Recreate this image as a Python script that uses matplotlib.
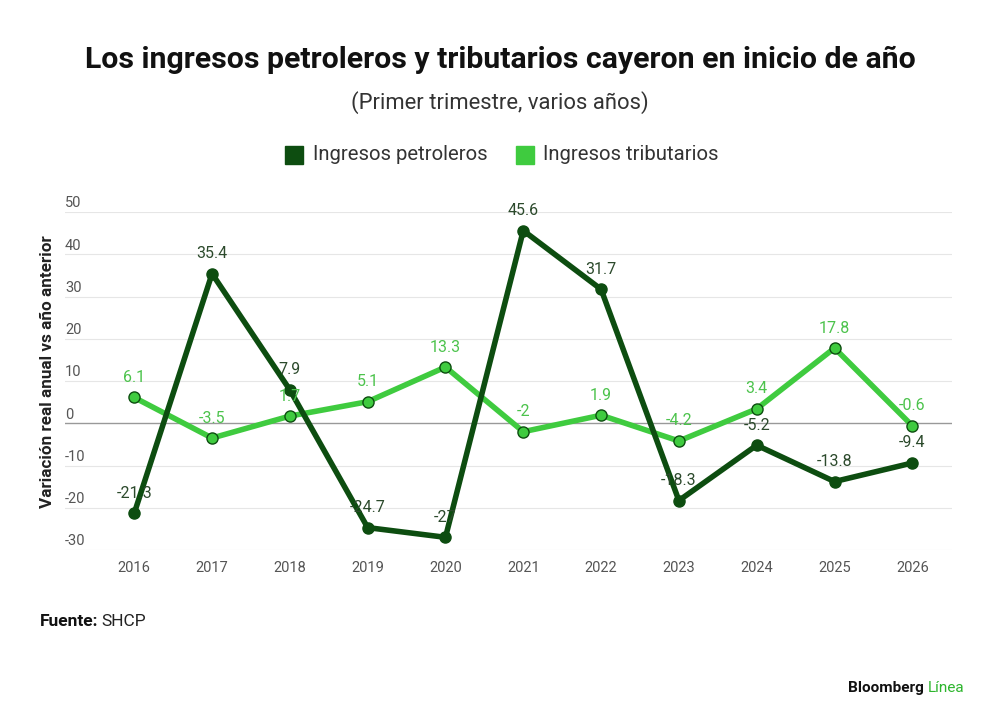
import numpy as np
import matplotlib.pyplot as plt

## Datos
anios = [2016, 2017, 2018, 2019, 2020, 2021, 2022, 2023, 2024, 2025, 2026]
petroleros = [-21.3, 35.4, 7.9, -24.7, -27, 45.6, 31.7, -18.3, -5.2, -13.8, -9.4]
tributarios = [6.1, -3.5, 1.7, 5.1, 13.3, -2, 1.9, -4.2, 3.4, 17.8, -0.6]
etiquetas_pet = ['-21.3', '35.4', '7.9', '-24.7', '-27', '45.6', '31.7', '-18.3', '-5.2', '-13.8', '-9.4']
etiquetas_trib = ['6.1', '-3.5', '1.7', '5.1', '13.3', '-2', '1.9', '-4.2', '3.4', '17.8', '-0.6']
yticks = [-30, -20, -10, 0, 10, 20, 30, 40, 50]

## Estilo
plt.rcParams['font.family'] = ['Roboto', 'DejaVu Sans']
c_osc = '#0d4d10'
c_cla = '#3fcb3f'
c_lab_osc = '#2c4a2c'
c_lab_cla = '#4cc34c'

fig = plt.figure(figsize=(10, 7.22), dpi=100)
ax = fig.add_axes([0.065, 1 - 550 / 722, 0.887, (550 - 212) / 722])
ax.set_xlim(2015.11, 2026.51)
ax.set_ylim(-30, 50)

# Rejilla y línea de cero
for v in yticks:
    ax.axhline(v, color='#999999' if v == 0 else '#e6e6e6',
               linewidth=1.0 if v == 0 else 0.8, zorder=1)
    ax.text(2015.11, v + 0.4, str(v), color='#555555', fontsize=10.5,
            ha='left', va='bottom')

ax.plot(anios, tributarios, color=c_cla, linewidth=4, marker='o', markersize=8,
        markerfacecolor=c_cla, markeredgecolor=c_osc, markeredgewidth=1.0,
        zorder=3, clip_on=False, label='Ingresos tributarios')
ax.plot(anios, petroleros, color=c_osc, linewidth=4, marker='o', markersize=8,
        markerfacecolor=c_osc, markeredgecolor=c_osc,
        zorder=4, clip_on=False, label='Ingresos petroleros')

for x, y, t in zip(anios, petroleros, etiquetas_pet):
    ax.annotate(t, (x, y), xytext=(0, 9), textcoords='offset points',
                ha='center', va='bottom', fontsize=11.5, color=c_lab_osc, zorder=6)
for x, y, t in zip(anios, tributarios, etiquetas_trib):
    ax.annotate(t, (x, y), xytext=(0, 9), textcoords='offset points',
                ha='center', va='bottom', fontsize=11.5, color=c_lab_cla, zorder=6)

ax.set_xticks(anios)
ax.set_xticklabels([str(a) for a in anios], color='#555555', fontsize=10.5)
ax.tick_params(axis='x', length=0, pad=8)
ax.set_yticks([])
for s in ax.spines.values():
    s.set_visible(False)
ax.patch.set_alpha(0)

fig.text(0.048, 1 - 372 / 722, 'Variación real anual vs año anterior', rotation=90,
         ha='center', va='center', fontsize=12.3, fontweight='bold', color='#222222')

## Títulos
fig.text(0.5, 1 - 60 / 722, 'Los ingresos petroleros y tributarios cayeron en inicio de año',
         ha='center', va='center', fontsize=21.8, fontweight='bold', color='#111111')
fig.text(0.5, 1 - 103 / 722, '(Primer trimestre, varios años)',
         ha='center', va='center', fontsize=15.8, color='#333333')

## Leyenda
fig.patches.append(plt.Rectangle((0.285, 1 - 164 / 722), 0.018, 18 / 722,
                                 transform=fig.transFigure, color=c_osc))
fig.text(0.313, 1 - 155 / 722, 'Ingresos petroleros', ha='left', va='center',
         fontsize=14.6, color='#333333')
fig.patches.append(plt.Rectangle((0.516, 1 - 164 / 722), 0.018, 18 / 722,
                                 transform=fig.transFigure, color=c_cla))
fig.text(0.543, 1 - 155 / 722, 'Ingresos tributarios', ha='left', va='center',
         fontsize=14.6, color='#333333')

## Pie
fig.text(0.040, 1 - 622 / 722, 'Fuente:', ha='left', va='center',
         fontsize=12.5, fontweight='bold', color='#111111')
fig.text(0.101, 1 - 622 / 722, 'SHCP', ha='left', va='center',
         fontsize=12.5, color='#222222')
fig.text(0.924, 1 - 688 / 722, 'Bloomberg', ha='right', va='center',
         fontsize=11, fontweight='bold', color='#111111')
fig.text(0.928, 1 - 688 / 722, 'Línea', ha='left', va='center',
         fontsize=11, color='#2db52d')

fig.savefig('out.png', dpi=100, facecolor='white')
